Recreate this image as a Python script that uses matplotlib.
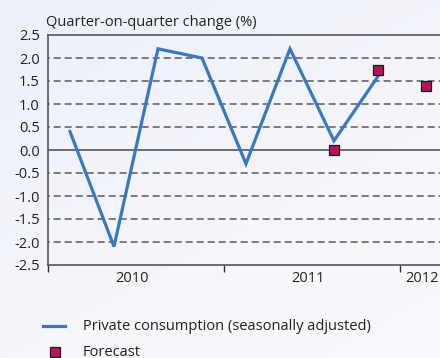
import numpy as np
import matplotlib.pyplot as plt
from matplotlib.lines import Line2D

plt.rcParams['font.family'] = ['Open Sans', 'DejaVu Sans']

# quarterly index: 0 = 2010 Q1 ... 8 = 2012 Q1
quarters = [0, 1, 2, 3, 4, 5, 6, 7]
consumption = [0.4, -2.1, 2.2, 2.0, -0.3, 2.2, 0.2, 1.6]
fc_quarters = [6, 7, 8.1]
forecast = [0.0, 1.75, 1.4]
years = ['2010', '2011', '2012']
year_pos = [1.4, 5.4, 7.62]
yticks = np.arange(-2.5, 2.51, 0.5)

fig = plt.figure(figsize=(4.4, 3.58), dpi=100)

# soft background gradient
bg = fig.add_axes([0, 0, 1, 1])
gx, gy = np.meshgrid(np.linspace(0, 1, 200), np.linspace(0, 1, 200))
grad = 0.6 * gy + 0.4 * (1 - gx)
bg.imshow(grad, cmap=plt.matplotlib.colors.LinearSegmentedColormap.from_list(
    'bg', ['#f9fafd', '#edf0f8']), aspect='auto', extent=[0, 1, 0, 1], origin='lower')
bg.axis('off')

ax = fig.add_axes([48 / 440, 93 / 358, 1 - 48 / 440, 230 / 358])
ax.set_facecolor('none')

for v in yticks:
    if abs(v) < 1e-9 or abs(abs(v) - 2.5) < 1e-9:
        continue
    ax.axhline(v, color='#5a5a5a', lw=1.1, ls=(3.5, (4.6, 2.6)), zorder=1)
ax.axhline(0, color='#555555', lw=1.2, zorder=1)

ax.plot(quarters, consumption, color='#3a78c2', lw=2.3, zorder=3, solid_joinstyle='miter')
ax.plot(fc_quarters, forecast, ls='none', marker='s', ms=7.5, mfc='#b8145e',
        mec='#1a1a1a', mew=0.9, zorder=4)

ax.set_xlim(-0.5, 8.41)
ax.set_ylim(-2.5, 2.5)
ax.set_yticks(yticks)
ax.set_yticklabels([f'{v:.1f}' for v in yticks])
ax.set_xticks([-0.5, 3.5, 7.5])
ax.set_xticklabels([])
ax.tick_params(axis='y', length=0, pad=6, labelsize=10.5, colors='#222222')
ax.tick_params(axis='x', length=5, width=1, color='#333333', direction='out')

for s in ['left', 'top', 'bottom']:
    ax.spines[s].set_color('#555555')
    ax.spines[s].set_linewidth(1.2)
ax.spines['right'].set_visible(False)

for lab, p in zip(years, year_pos):
    ax.text(p, -2.63, lab, ha='center' if lab != '2012' else 'left', va='top',
            fontsize=10.5, color='#222222')

fig.text(46 / 440, 1 - 22 / 358, 'Quarter-on-quarter change (%)', ha='left', va='center',
         fontsize=10.5, color='#222222')

# legend
fig.add_artist(Line2D([43 / 440, 65 / 440], [1 - 326 / 358] * 2, color='#3a78c2', lw=2.3))
fig.text(83 / 440, 1 - 326 / 358, 'Private consumption (seasonally adjusted)', ha='left',
         va='center', fontsize=10.5, color='#222222')
fig.add_artist(Line2D([55 / 440], [1 - 352 / 358], ls='none', marker='s', ms=7.5,
                      mfc='#b8145e', mec='#1a1a1a', mew=0.9))
fig.text(83 / 440, 1 - 352 / 358, 'Forecast', ha='left', va='center', fontsize=10.5,
         color='#222222')

fig.savefig('out.png', dpi=100)
